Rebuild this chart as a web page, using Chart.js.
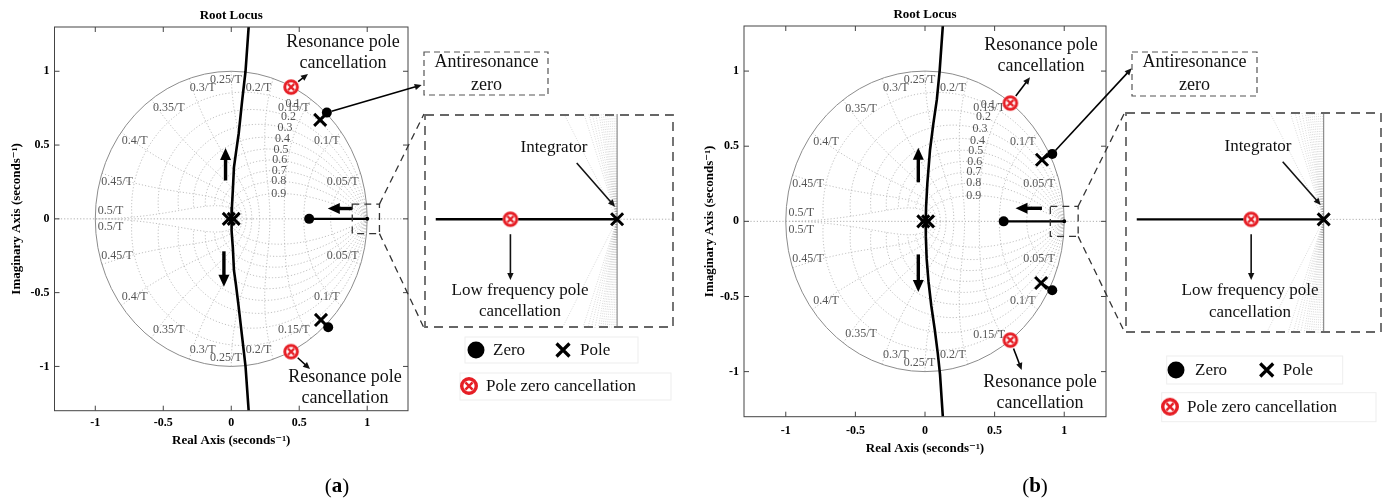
<!DOCTYPE html>
<html>
<head>
<meta charset="utf-8">
<script src="https://cdn.jsdelivr.net/npm/chart.js@4.4.0/dist/chart.umd.min.js"></script>
<style>
  body { margin: 0; background: #fff; }
  #wrap { position: relative; width: 1389px; height: 503px; overflow: hidden; }
  canvas { position: absolute; }
</style>
</head>
<body>
<div id="wrap">
  <canvas id="plotA" width="694" height="503" style="left:0;top:0"></canvas>
  <canvas id="plotB" width="695" height="503" style="left:694px;top:0"></canvas>
  <canvas id="insetA" width="250" height="214" style="left:424px;top:114px"></canvas>
  <canvas id="insetB" width="257" height="221" style="left:1125px;top:112px"></canvas>
</div>
<script>
const FONT = "'Liberation Serif', 'Times New Roman', 'DejaVu Serif', serif";
Chart.defaults.font.family = FONT;
Chart.defaults.color = '#000';

// axis ticks
const realTicks = [-1, -0.5, 0, 0.5, 1];
const imagTicks = [-1, -0.5, 0, 0.5, 1];

// z-plane grid levels (damping ratio, natural frequency x T)
const zetaLevels = [0.1, 0.2, 0.3, 0.4, 0.5, 0.6, 0.7, 0.8, 0.9];
const wnLevels = [0.05, 0.1, 0.15, 0.2, 0.25, 0.3, 0.35, 0.4, 0.45, 0.5];

// ---- plot (a) ----
const locusA = [[0.128, 1.3], [0.105, 1.0], [0.08, 0.8], [0.055, 0.58], [0.035, 0.45], [0.02, 0.35],
  [0.012, 0.2], [0.005, 0.08], [0, 0], [0.005, -0.08], [0.012, -0.2], [0.02, -0.35], [0.035, -0.45],
  [0.055, -0.6], [0.08, -0.8], [0.105, -1.0], [0.128, -1.3]];
const realBranchA = [[0.573, 0], [1.0, 0]];
const antiUpA = [[0.654, 0.671], [0.703, 0.72]];
const antiDownA = [[0.66, -0.685], [0.713, -0.734]];
const polesA = [[-0.018, 0], [0.018, 0], [0.654, 0.671], [0.66, -0.685]];
const zerosA = [[0.573, 0], [0.703, 0.72], [0.713, -0.734]];
const cancelA = [[0.44, 0.893], [0.44, -0.9]];
const integratorA = [[1.0, 0]];
const insetCancelA = [[0.99765, 0]];

// ---- plot (b) ----
const locusB = [[0.128, 1.3], [0.105, 1.0], [0.085, 0.81], [0.06, 0.65], [0.036, 0.475], [0.017, 0.255],
  [0.008, 0.1], [0.005, 0], [0.006, -0.1], [0.012, -0.25], [0.025, -0.4], [0.045, -0.56], [0.07, -0.72],
  [0.092, -0.88], [0.108, -1.02], [0.128, -1.3]];
const realBranchB = [[0.565, 0], [1.0, 0]];
const antiUpB = [[0.84, 0.41], [0.914, 0.449]];
const antiDownB = [[0.834, -0.41], [0.914, -0.458]];
const polesB = [[-0.012, 0], [0.022, 0], [0.84, 0.41], [0.834, -0.41]];
const zerosB = [[0.565, 0], [0.914, 0.449], [0.914, -0.458]];
const cancelB = [[0.613, 0.787], [0.613, -0.79]];
const integratorB = [[1.0, 0]];
const insetCancelB = [[0.99845, 0]];

// zoomed view near z = 1 (shared)
const insetBranch = [[0.996, 0], [1.0, 0]];
const insetPole = [[1.0, 0]];

const pts = a => a.map(([x, y]) => ({ x, y }));

function makeCancelMarker(r) {
  const c = document.createElement('canvas');
  const s = Math.ceil(2 * r + 4);
  c.width = c.height = s;
  const g = c.getContext('2d');
  const m = s / 2;
  g.fillStyle = '#fff';
  g.beginPath(); g.arc(m, m, r, 0, 2 * Math.PI); g.fill();
  g.strokeStyle = '#e61e25';
  g.lineWidth = r * 0.38;
  g.beginPath(); g.arc(m, m, r - g.lineWidth / 2, 0, 2 * Math.PI); g.stroke();
  const k = r * 0.4;
  g.lineWidth = r * 0.28;
  g.beginPath();
  g.moveTo(m - k, m - k); g.lineTo(m + k, m + k);
  g.moveTo(m + k, m - k); g.lineTo(m - k, m + k);
  g.stroke();
  return c;
}
const cancelMarker = makeCancelMarker(7.8);
const legendCancel = makeCancelMarker(9);

function arrow(ctx, x1, y1, x2, y2, lw, head, hw) {
  const a = Math.atan2(y2 - y1, x2 - x1);
  const c = Math.cos(a), s = Math.sin(a);
  ctx.lineWidth = lw;
  ctx.beginPath();
  ctx.moveTo(x1, y1);
  ctx.lineTo(x2 - c * head * 0.8, y2 - s * head * 0.8);
  ctx.stroke();
  ctx.beginPath();
  ctx.moveTo(x2, y2);
  ctx.lineTo(x2 - head * c + hw * s, y2 - head * s - hw * c);
  ctx.lineTo(x2 - head * c - hw * s, y2 - head * s + hw * c);
  ctx.closePath();
  ctx.fill();
}

// where the natural frequency labels sit (angle deg, radius)
const wnLabelLayout = [[17, 0.857], [37, 0.88], [58.6, 0.884], [77.3, 0.912], [92.4, 0.94],
  [103.3, 0.914], [121.5, 0.88], [143.3, 0.886], [163.4, 0.876], [176.5, 0.89]];

const zgridPlugin = {
  id: 'zgrid',
  beforeDatasetsDraw(chart) {
    const { ctx, chartArea: ca, scales: { x: xs, y: ys } } = chart;
    const px = v => xs.getPixelForValue(v), py = v => ys.getPixelForValue(v);
    ctx.save();
    ctx.beginPath(); ctx.rect(ca.left, ca.top, ca.width, ca.height); ctx.clip();
    ctx.lineWidth = 0.8;
    ctx.setLineDash([1.2, 2]);
    ctx.strokeStyle = '#9a9a9a';
    ctx.beginPath(); ctx.moveTo(ca.left, py(0)); ctx.lineTo(ca.right, py(0)); ctx.stroke();
    ctx.strokeStyle = '#b0b0b0';
    zetaLevels.forEach(z => {
      [1, -1].forEach(sg => {
        ctx.beginPath();
        for (let i = 0; i <= 150; i++) {
          const w = Math.PI * i / 150, r = Math.exp(-z * w), th = w * Math.sqrt(1 - z * z);
          const X = px(r * Math.cos(th)), Y = py(sg * r * Math.sin(th));
          i ? ctx.lineTo(X, Y) : ctx.moveTo(X, Y);
        }
        ctx.stroke();
      });
    });
    wnLevels.forEach(f => {
      const w = 2 * Math.PI * f;
      [1, -1].forEach(sg => {
        ctx.beginPath();
        for (let i = 0; i <= 80; i++) {
          const z = i / 80, r = Math.exp(-z * w), th = w * Math.sqrt(1 - z * z);
          const X = px(r * Math.cos(th)), Y = py(sg * r * Math.sin(th));
          i ? ctx.lineTo(X, Y) : ctx.moveTo(X, Y);
        }
        ctx.stroke();
      });
    });
    ctx.setLineDash([]);
    ctx.strokeStyle = '#8c8c8c';
    ctx.lineWidth = 1;
    ctx.beginPath();
    ctx.ellipse(px(0), py(0), px(1) - px(0), py(0) - py(1), 0, 0, 2 * Math.PI);
    ctx.stroke();
    ctx.restore();

    ctx.save();
    ctx.fillStyle = '#555';
    ctx.font = `12px ${FONT}`;
    ctx.textAlign = 'center';
    ctx.textBaseline = 'middle';
    wnLevels.forEach((f, i) => {
      const [deg, rad] = wnLabelLayout[i];
      const a = deg * Math.PI / 180;
      [1, -1].forEach(sg => {
        ctx.fillText(f + '/T', px(rad * Math.cos(a)), py(sg * rad * Math.sin(a)));
      });
    });
    zetaLevels.forEach(z => {
      const w = Math.PI / 3, r = Math.exp(-z * w), th = w * Math.sqrt(1 - z * z);
      ctx.fillText(String(z), px(r * Math.cos(th)), py(r * Math.sin(th)));
    });
    ctx.restore();
  }
};

function drawLegend(ctx, g) {
  ctx.save();
  ctx.strokeStyle = 'rgba(0,0,0,0.07)';
  ctx.lineWidth = 1;
  ctx.strokeRect(g.box1[0], g.box1[1], g.box1[2] - g.box1[0], g.box1[3] - g.box1[1]);
  ctx.strokeRect(g.box2[0], g.box2[1], g.box2[2] - g.box2[0], g.box2[3] - g.box2[1]);
  ctx.fillStyle = '#000';
  ctx.beginPath(); ctx.arc(g.dot[0], g.dot[1], 8.5, 0, 2 * Math.PI); ctx.fill();
  ctx.strokeStyle = '#000';
  ctx.lineWidth = 3.2;
  const h = 6.5, [cx, cy] = g.cross;
  ctx.beginPath();
  ctx.moveTo(cx - h, cy - h); ctx.lineTo(cx + h, cy + h);
  ctx.moveTo(cx + h, cy - h); ctx.lineTo(cx - h, cy + h);
  ctx.stroke();
  ctx.drawImage(legendCancel, g.cancel[0] - legendCancel.width / 2, g.cancel[1] - legendCancel.height / 2);
  ctx.font = `17px ${FONT}`;
  ctx.textAlign = 'left';
  ctx.textBaseline = 'middle';
  ctx.fillStyle = '#111';
  ctx.fillText('Zero', g.zeroText, g.dot[1] + 1);
  ctx.fillText('Pole', g.poleText, g.cross[1] + 1);
  ctx.fillText('Pole zero cancellation', g.cancelText, g.cancel[1] + 1);
  ctx.restore();
}

function annotPlugin(L, d) {
  return {
    id: 'annot',
    afterDraw(chart) {
      const { ctx, chartArea: ca, scales: { x: xs, y: ys } } = chart;
      const P = (x, y) => [xs.getPixelForValue(x), ys.getPixelForValue(y)];
      ctx.save();
      // title
      ctx.fillStyle = '#000';
      ctx.font = `bold 13px ${FONT}`;
      ctx.textAlign = 'center';
      ctx.textBaseline = 'middle';
      ctx.fillText('Root Locus', (ca.left + ca.right) / 2, L.titleY);
      // box and inward ticks
      ctx.strokeStyle = '#444';
      ctx.lineWidth = 1;
      ctx.strokeRect(ca.left, ca.top, ca.width, ca.height);
      ctx.beginPath();
      realTicks.forEach(v => {
        const X = xs.getPixelForValue(v);
        ctx.moveTo(X, ca.bottom); ctx.lineTo(X, ca.bottom - 5);
        ctx.moveTo(X, ca.top); ctx.lineTo(X, ca.top + 5);
      });
      imagTicks.forEach(v => {
        const Y = ys.getPixelForValue(v);
        ctx.moveTo(ca.left, Y); ctx.lineTo(ca.left + 5, Y);
        ctx.moveTo(ca.right, Y); ctx.lineTo(ca.right - 5, Y);
      });
      ctx.stroke();

      // locus direction arrows
      ctx.strokeStyle = '#000';
      ctx.fillStyle = '#000';
      L.dirArrows.forEach(([x1, y1, x2, y2]) => {
        const a = P(x1, y1), b = P(x2, y2);
        arrow(ctx, a[0], a[1], b[0], b[1], 3.4, 12, 5.5);
      });

      // thin callout arrows
      const callout = (from, to, gap) => {
        const dx = to[0] - from[0], dy = to[1] - from[1], n = Math.hypot(dx, dy);
        arrow(ctx, from[0] + dx / n * gap, from[1] + dy / n * gap, to[0], to[1], 1.6, 7, 3.2);
      };
      ctx.fillStyle = '#111';
      ctx.font = `18px ${FONT}`;
      [[L.resTop, d.cancel[0]], [L.resBot, d.cancel[1]]].forEach(([o, pt]) => {
        callout(P(pt[0], pt[1]), o.arrowTo, 9);
        ctx.fillText('Resonance pole', o.text[0], o.text[1]);
        ctx.fillText('cancellation', o.text[0], o.text[2]);
      });

      // antiresonance zero callout
      const zp = d.zeros[1];
      callout(P(zp[0], zp[1]), L.anti.arrowTo, 5);
      ctx.save();
      ctx.strokeStyle = '#555';
      ctx.lineWidth = 1.2;
      ctx.setLineDash([6, 4]);
      const b = L.anti.box;
      ctx.strokeRect(b[0], b[1], b[2] - b[0], b[3] - b[1]);
      ctx.restore();
      ctx.fillText('Antiresonance', L.anti.text[0], L.anti.text[1]);
      ctx.fillText('zero', L.anti.text[0], L.anti.text[2]);

      // zoom rectangle and connectors
      ctx.save();
      ctx.strokeStyle = '#333';
      ctx.lineWidth = 1.3;
      ctx.setLineDash([7, 5]);
      const r1 = P(L.zoomRect[0], L.zoomRect[3]), r2 = P(L.zoomRect[2], L.zoomRect[1]);
      ctx.strokeRect(r1[0], r1[1], r2[0] - r1[0], r2[1] - r1[1]);
      ctx.beginPath();
      ctx.moveTo(r2[0], r1[1]); ctx.lineTo(L.inset[0], L.inset[1]);
      ctx.moveTo(r2[0], r2[1]); ctx.lineTo(L.inset[0], L.inset[3]);
      ctx.stroke();
      ctx.restore();

      drawLegend(ctx, L.legend);

      // sub-figure label
      ctx.font = `21px ${FONT}`;
      const wo = ctx.measureText('(').width;
      ctx.font = `bold 21px ${FONT}`;
      const wl = ctx.measureText(L.sub.letter).width;
      let x0 = L.sub.x - (2 * wo + wl) / 2;
      ctx.textAlign = 'left';
      ctx.fillStyle = '#000';
      ctx.font = `21px ${FONT}`;
      ctx.fillText('(', x0, L.sub.y);
      ctx.font = `bold 21px ${FONT}`;
      ctx.fillText(L.sub.letter, x0 + wo, L.sub.y);
      ctx.font = `21px ${FONT}`;
      ctx.fillText(')', x0 + wo + wl, L.sub.y);
      ctx.restore();
    }
  };
}

function rootLocusChart(id, d, L) {
  return new Chart(document.getElementById(id), {
    type: 'scatter',
    data: {
      datasets: [
        { data: pts(d.cancel), pointStyle: cancelMarker, order: 0 },
        { data: pts(d.zeros), pointStyle: 'circle', pointRadius: 5, backgroundColor: '#000', borderColor: '#000', borderWidth: 0, order: 1 },
        { data: pts(d.poles), pointStyle: 'crossRot', pointRadius: 8.5, borderColor: '#000', borderWidth: 3, order: 2 },
        { data: pts(d.integrator), pointRadius: 2, backgroundColor: '#000', borderWidth: 0, order: 3 },
        { data: pts(d.locus), showLine: true, pointRadius: 0, borderColor: '#000', borderWidth: 2.6, order: 4 },
        { data: pts(d.real), showLine: true, pointRadius: 0, borderColor: '#000', borderWidth: 2.2, order: 5 },
        { data: pts(d.antiUp), showLine: true, pointRadius: 0, borderColor: '#000', borderWidth: 2, order: 6 },
        { data: pts(d.antiDown), showLine: true, pointRadius: 0, borderColor: '#000', borderWidth: 2, order: 7 }
      ]
    },
    options: {
      responsive: false,
      animation: false,
      events: [],
      layout: { padding: { left: 0, right: L.padRight, top: L.padTop, bottom: L.padBottom } },
      plugins: { legend: { display: false }, tooltip: { enabled: false } },
      scales: {
        x: {
          type: 'linear', min: -1.3, max: 1.3,
          grid: { display: false, drawTicks: false }, border: { display: false },
          afterBuildTicks: s => { s.ticks = realTicks.map(v => ({ value: v })); },
          afterFit: s => { s.height = L.xHeight; },
          ticks: { autoSkip: false, maxRotation: 0, padding: L.xTickPad, font: { size: 12, weight: 'bold' }, color: '#000', callback: v => String(v) },
          title: { display: true, text: 'Real Axis (seconds\u207B\u00B9)', font: { size: 13, weight: 'bold' }, color: '#000', padding: 0 }
        },
        y: {
          type: 'linear', min: -1.3, max: 1.3,
          grid: { display: false, drawTicks: false }, border: { display: false },
          afterBuildTicks: s => { s.ticks = imagTicks.map(v => ({ value: v })); },
          afterFit: s => { s.width = L.yWidth; },
          ticks: { autoSkip: false, padding: L.yTickPad, font: { size: 12, weight: 'bold' }, color: '#000', callback: v => String(v) },
          title: { display: true, text: 'Imaginary Axis (seconds\u207B\u00B9)', font: { size: 13, weight: 'bold' }, color: '#000', padding: { top: L.yTitlePad, bottom: 0 } }
        }
      }
    },
    plugins: [zgridPlugin, annotPlugin(L, d)]
  });
}

function insetPlugin(L) {
  return {
    id: 'inset',
    beforeDatasetsDraw(chart) {
      const { ctx, width, height, scales: { x: xs, y: ys } } = chart;
      const X1 = xs.getPixelForValue(1), Y0 = ys.getPixelForValue(0);
      ctx.save();
      ctx.strokeStyle = 'rgba(120,120,120,0.35)';
      ctx.lineWidth = 0.8;
      ctx.setLineDash([1, 1.5]);
      [0.01, 0.03, 0.05, 0.07, 0.09, 0.11, 0.13, 0.15, 0.17, 0.2, 0.23, 0.26, 0.3, 0.45].forEach(z => {
        const k = z / Math.sqrt(1 - z * z);
        ctx.beginPath();
        ctx.moveTo(X1, Y0); ctx.lineTo(X1 - k * Y0, 0);
        ctx.moveTo(X1, Y0); ctx.lineTo(X1 - k * (height - Y0), height);
        ctx.stroke();
      });
      ctx.strokeStyle = '#9a9a9a';
      ctx.setLineDash([1.2, 2]);
      ctx.beginPath(); ctx.moveTo(X1, Y0); ctx.lineTo(width, Y0); ctx.stroke();
      ctx.setLineDash([]);
      ctx.strokeStyle = '#777';
      ctx.lineWidth = 1;
      ctx.beginPath(); ctx.moveTo(X1, 0); ctx.lineTo(X1, height); ctx.stroke();
      ctx.restore();
    },
    afterDraw(chart) {
      const { ctx, width, height, scales: { x: xs, y: ys } } = chart;
      const c = chart.data.datasets[0].data[0];
      const cx = xs.getPixelForValue(c.x), cy = ys.getPixelForValue(c.y);
      ctx.save();
      ctx.strokeStyle = '#666';
      ctx.lineWidth = 1.8;
      ctx.setLineDash([9, 6]);
      ctx.strokeRect(1, 1, width - 2, height - 2);
      ctx.setLineDash([]);
      ctx.strokeStyle = '#111';
      ctx.fillStyle = '#111';
      const a = L.integ.arrow;
      arrow(ctx, a[0], a[1], a[2], a[3], 1.6, 7, 3.2);
      arrow(ctx, cx, cy + 15, cx, L.low.arrowEndY, 1.6, 7, 3.2);
      ctx.font = `17px ${FONT}`;
      ctx.textAlign = 'center';
      ctx.textBaseline = 'middle';
      ctx.fillText('Integrator', L.integ.text[0], L.integ.text[1]);
      ctx.fillText('Low frequency pole', L.low.text[0], L.low.text[1]);
      ctx.fillText('cancellation', L.low.text[0], L.low.text[2]);
      ctx.restore();
    }
  };
}

function insetChart(id, cancelPts, yRange, L) {
  return new Chart(document.getElementById(id), {
    type: 'scatter',
    data: {
      datasets: [
        { data: pts(cancelPts), pointStyle: cancelMarker, order: 0 },
        { data: pts(insetPole), pointStyle: 'crossRot', pointRadius: 8.5, borderColor: '#000', borderWidth: 3, order: 1 },
        { data: pts(insetBranch), showLine: true, pointRadius: 0, borderColor: '#000', borderWidth: 2.4, order: 2 }
      ]
    },
    options: {
      responsive: false,
      animation: false,
      events: [],
      layout: { padding: 0 },
      plugins: { legend: { display: false }, tooltip: { enabled: false } },
      scales: {
        x: { type: 'linear', display: false, min: 0.996, max: 1.001 },
        y: { type: 'linear', display: false, min: yRange[0], max: yRange[1] }
      }
    },
    plugins: [insetPlugin(L)]
  });
}

rootLocusChart('plotA',
  { locus: locusA, real: realBranchA, antiUp: antiUpA, antiDown: antiDownA, poles: polesA, zeros: zerosA, cancel: cancelA, integrator: integratorA },
  {
    titleY: 16, padRight: 286, padTop: 27, padBottom: 54.3, xHeight: 38, yWidth: 54.5,
    xTickPad: 5.4, yTickPad: 5, yTitlePad: 9,
    resTop: { text: [343, 42, 63.5], arrowTo: [308, 74] },
    resBot: { text: [345, 377, 398.5], arrowTo: [310, 369] },
    anti: { box: [424, 52, 548, 95], text: [486.5, 62.5, 85], arrowTo: [421.7, 85] },
    dirArrows: [[-0.042, 0.26, -0.042, 0.48], [-0.054, -0.22, -0.054, -0.46], [0.89, 0.07, 0.71, 0.07]],
    zoomRect: [0.89, -0.1, 1.09, 0.1],
    inset: [424, 114, 674, 328],
    legend: { dot: [476, 350], zeroText: 493, cross: [563, 350], poleText: 580, cancel: [469, 386], cancelText: 486,
      box1: [465, 337, 638, 363], box2: [460, 373, 671, 400] },
    sub: { x: 337, y: 487, letter: 'a' }
  });

rootLocusChart('plotB',
  { locus: locusB, real: realBranchB, antiUp: antiUpB, antiDown: antiDownB, poles: polesB, zeros: zerosB, cancel: cancelB, integrator: integratorB },
  {
    titleY: 15, padRight: 283, padTop: 26, padBottom: 46.5, xHeight: 39.8, yWidth: 50,
    xTickPad: 6.8, yTickPad: 5, yTitlePad: 7.8,
    resTop: { text: [347, 45, 66.7], arrowTo: [336, 77.3] },
    resBot: { text: [346, 382.7, 403.3], arrowTo: [327.7, 370] },
    anti: { box: [438, 52, 563, 96], text: [500.5, 62.7, 85], arrowTo: [437.7, 68.3] },
    dirArrows: [[-0.048, 0.26, -0.048, 0.49], [-0.048, -0.22, -0.048, -0.47], [0.84, 0.087, 0.65, 0.087]],
    zoomRect: [0.9, -0.1, 1.1, 0.1],
    inset: [431, 112, 688, 333],
    legend: { dot: [482, 370], zeroText: 501, cross: [572.7, 370], poleText: 588.7, cancel: [476, 406.7], cancelText: 493,
      box1: [472.7, 356, 648.7, 384], box2: [467.7, 392.7, 682, 421.7] },
    sub: { x: 341, y: 487, letter: 'b' }
  });

insetChart('insetA', insetCancelA, [-0.00218, 0.0021], {
  integ: { text: [130, 34], arrow: [152.7, 49, 191, 92.7] },
  low: { arrowEndY: 166, text: [96, 176.7, 197.7] }
});

insetChart('insetB', insetCancelB, [-0.002237, 0.0021], {
  integ: { text: [133, 34.7], arrow: [157.7, 49.7, 195.7, 93] },
  low: { arrowEndY: 168, text: [125, 178.7, 200.7] }
});
</script>
</body>
</html>
